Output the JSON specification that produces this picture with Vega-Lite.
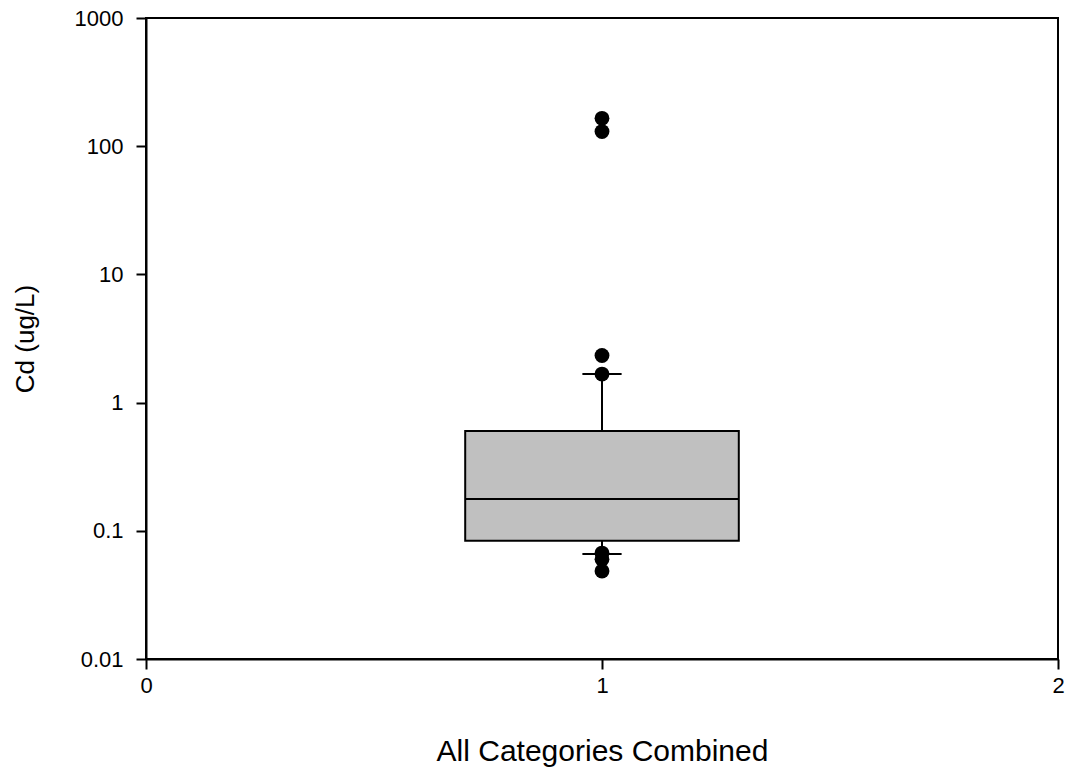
{
  "$schema": "https://vega.github.io/schema/vega-lite/v6.json",
  "width": 912,
  "height": 641,
  "autosize": "none",
  "padding": {"left": 146, "top": 18, "right": 10, "bottom": 110},
  "background": "white",
  "config": {
    "font": "Liberation Sans",
    "view": {"stroke": "black", "strokeWidth": 2},
    "axis": {
      "domainColor": "black", "domainWidth": 2, "tickColor": "black", "tickWidth": 2,
      "tickSize": 10, "grid": false, "labelColor": "black", "titleColor": "black",
      "labelFont": "Liberation Sans", "titleFont": "Liberation Sans",
      "labelFontSize": 22, "titleFontWeight": "normal"
    }
  },
  "datasets": {
    "box": [
      {"category": 1, "left": 0.7, "right": 1.3, "capLeft": 0.957, "capRight": 1.043, "lower": 0.066, "q1": 0.0835, "median": 0.177, "q3": 0.6, "upper": 1.67}
    ],
    "outliers": [
      {"category": 1, "value": 165},
      {"category": 1, "value": 130},
      {"category": 1, "value": 2.33},
      {"category": 1, "value": 1.67},
      {"category": 1, "value": 0.067},
      {"category": 1, "value": 0.06},
      {"category": 1, "value": 0.0485}
    ]
  },
  "encoding": {
    "x": {"type": "quantitative", "scale": {"domain": [0, 2], "nice": false, "zero": false},
          "axis": {"values": [0, 1, 2], "title": "All Categories Combined", "titleFontSize": 30, "labelPadding": 6, "titlePadding": 40, "labelExpr": "format(datum.value, 'd')", "labelOverlap": false, "labelFlush": false}},
    "y": {"type": "quantitative",
          "scale": {"type": "log", "domain": [0.01, 1000], "nice": false},
          "axis": {"values": [0.01, 0.1, 1, 10, 100, 1000], "title": "Cd (ug/L)", "titleFontSize": 26, "labelPadding": 13, "titlePadding": 36, "labelExpr": "datum.value < 1 ? format(datum.value, '.2~f') : format(datum.value, 'd')"}}
  },
  "layer": [
    {
      "data": {"name": "box"},
      "mark": {"type": "rule", "stroke": "black", "strokeWidth": 2},
      "encoding": {
        "x": {"field": "category"},
        "y": {"field": "q3"},
        "y2": {"field": "upper"}
      }
    },
    {
      "data": {"name": "box"},
      "mark": {"type": "rule", "stroke": "black", "strokeWidth": 2},
      "encoding": {
        "x": {"field": "category"},
        "y": {"field": "lower"},
        "y2": {"field": "q1"}
      }
    },
    {
      "data": {"name": "box"},
      "mark": {"type": "rule", "stroke": "black", "strokeWidth": 2},
      "encoding": {
        "x": {"field": "capLeft"},
        "x2": {"field": "capRight"},
        "y": {"field": "upper"}
      }
    },
    {
      "data": {"name": "box"},
      "mark": {"type": "rule", "stroke": "black", "strokeWidth": 2},
      "encoding": {
        "x": {"field": "capLeft"},
        "x2": {"field": "capRight"},
        "y": {"field": "lower"}
      }
    },
    {
      "data": {"name": "box"},
      "mark": {"type": "rect", "fill": "#c0c0c0", "stroke": "black", "strokeWidth": 2},
      "encoding": {
        "x": {"field": "left"},
        "x2": {"field": "right"},
        "y": {"field": "q1"},
        "y2": {"field": "q3"}
      }
    },
    {
      "data": {"name": "box"},
      "mark": {"type": "rule", "stroke": "black", "strokeWidth": 2},
      "encoding": {
        "x": {"field": "left"},
        "x2": {"field": "right"},
        "y": {"field": "median"}
      }
    },
    {
      "data": {"name": "outliers"},
      "mark": {"type": "circle", "color": "black", "opacity": 1, "size": 220},
      "encoding": {
        "x": {"field": "category"},
        "y": {"field": "value"}
      }
    }
  ]
}
